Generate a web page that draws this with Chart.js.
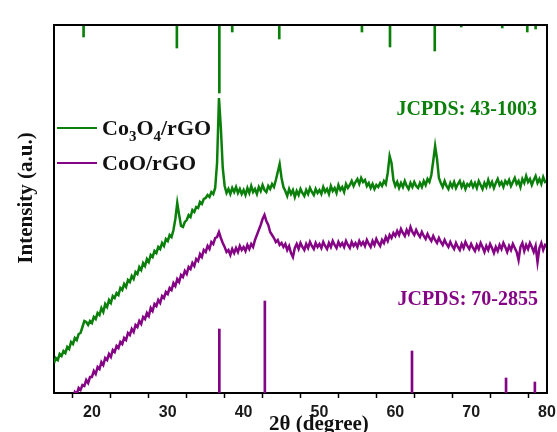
<!DOCTYPE html>
<html>
<head>
<meta charset="utf-8">
<script src="https://cdn.jsdelivr.net/npm/chart.js@4/dist/chart.umd.min.js"></script>
<style>
  html, body { margin: 0; padding: 0; background: #fff; }
  canvas { display: block; }
</style>
</head>
<body>
<canvas id="xrd" width="557" height="432"></canvas>
<script>
// 2-theta sampling of both scans: 15° to 80° every 0.25°
const START_ANGLE = 15;
const ANGLE_STEP = 0.25;

// Co3O4/rGO scan (a.u.), one row per 5°
const co3o4Counts = [
  30, 35, 33, 39, 37, 42, 40, 46, 44, 51, 49, 55, 53, 59, 60, 66, 72, 71, 68, 72,
  70, 76, 74, 80, 78, 85, 81, 89, 86, 93, 90, 97, 95, 100, 98, 105, 103, 109, 106, 113,
  111, 117, 114, 121, 119, 126, 123, 130, 127, 134, 131, 138, 136, 142, 140, 146, 144, 150, 147, 154,
  152, 158, 156, 163, 174, 190, 178, 167, 166, 171, 173, 178, 176, 183, 181, 186, 185, 191, 189, 194,
  195, 198, 196, 201, 199, 205, 230, 295, 265, 225, 207, 200, 204, 199, 205, 201, 206, 200, 204, 199,
  203, 198, 205, 200, 207, 201, 204, 199, 206, 202, 208, 203, 201, 207, 204, 209, 206, 213, 221, 229,
  215, 206, 202, 197, 204, 199, 203, 196, 202, 198, 204, 200, 197, 203, 199, 205, 201, 198, 204, 200,
  203, 199, 206, 201, 204, 199, 207, 202, 205, 200, 208, 203, 206, 201, 209, 205, 208, 212, 207, 211,
  214, 209, 215, 211, 213, 207, 210, 205, 209, 204, 208, 206, 210, 207, 212, 209, 220, 237, 230, 213,
  207, 211, 205, 210, 206, 212, 207, 204, 210, 206, 211, 207, 205, 210, 206, 212, 208, 214, 211, 218,
  232, 247, 234, 215, 210, 206, 212, 207, 204, 210, 206, 211, 205, 209, 212, 206, 210, 204, 209, 207,
  211, 206, 210, 205, 212, 208, 204, 210, 206, 213, 207, 211, 205, 210, 214, 208, 211, 206, 212, 209,
  213, 207, 211, 215, 209, 212, 206, 214, 210, 217, 211, 214, 208, 213, 217, 210, 214, 209, 216, 211,
  212
];

// CoO/rGO scan (a.u.)
const cooCounts = [
  -23, -19, -21, -15, -17, -11, -13, -7, -9, -3, -5, 1, -1, 5, 3, 8, 7, 13, 10, 16,
  16, 22, 19, 26, 24, 31, 28, 35, 33, 39, 36, 43, 41, 47, 45, 51, 49, 55, 53, 60,
  58, 64, 61, 68, 66, 72, 69, 76, 74, 80, 77, 85, 82, 89, 87, 93, 90, 97, 95, 101,
  99, 105, 103, 110, 107, 114, 111, 118, 116, 122, 119, 126, 124, 130, 127, 134, 132, 139, 136, 143,
  141, 147, 144, 151, 149, 155, 156, 161, 155, 150, 146, 141, 143, 138, 144, 140, 145, 141, 147, 143,
  146, 142, 148, 144, 149, 146, 153, 158, 163, 168, 174, 178, 172, 168, 161, 158, 155, 151, 153, 148,
  150, 146, 149, 143, 147, 140, 136, 145, 149, 144, 150, 146, 143, 149, 145, 151, 147, 144, 150, 146,
  149, 145, 151, 147, 144, 150, 146, 152, 148, 145, 151, 147, 150, 146, 152, 148, 145, 151, 147, 150,
  146, 152, 148, 151, 147, 153, 149, 146, 152, 148, 154, 150, 147, 153, 150, 156, 152, 158, 155, 160,
  157, 162, 158, 164, 160, 157, 163, 159, 166, 161, 158, 163, 159, 156, 161, 157, 154, 159, 155, 152,
  157, 153, 150, 155, 151, 148, 153, 149, 146, 151, 147, 144, 150, 146, 143, 149, 145, 151, 147, 144,
  149, 145, 142, 148, 144, 150, 146, 141, 147, 143, 149, 145, 140, 146, 142, 148, 144, 150, 146, 141,
  147, 143, 149, 145, 141, 133, 146, 150, 142, 148, 144, 150, 146, 141, 147, 131, 145, 150, 143, 148,
  146
];

// standard patterns: peak positions and relative stick heights
const co3o4RefAngles  = [18.9, 31.2, 36.8, 38.5, 44.7, 55.6, 59.3, 65.2, 68.7, 74.1, 77.4, 78.5];
const co3o4RefHeights = [12, 23, 68, 7, 14, 7, 22, 26, 2, 3, 7, 4];
const cooRefAngles  = [36.8, 42.8, 62.2, 74.6, 78.4];
const cooRefHeights = [64, 92, 42, 15, 11];

const Y_MAX = 368;
const GREEN = "#0a800a";
const PURPLE = "#850485";
const SERIF = "'Liberation Serif', 'Times New Roman', serif";

const angles = co3o4Counts.map((_, i) => START_ANGLE + i * ANGLE_STEP);
const toPoints = (ys) => ys.map((y, i) => ({ x: angles[i], y }));

// Co3O4 sticks hang from the top frame, CoO sticks stand on the x axis
const hanging = co3o4RefAngles.map((x, i) => ({ x, y: [Y_MAX - co3o4RefHeights[i], Y_MAX] }));
const standing = cooRefAngles.map((x, i) => ({ x, y: [0, cooRefHeights[i]] }));

const annotations = {
  id: "annotations",
  afterDraw(chart) {
    const { ctx, chartArea: a } = chart;
    ctx.save();

    // closing frame on top and right
    ctx.strokeStyle = "#000";
    ctx.lineWidth = 2;
    ctx.beginPath();
    ctx.moveTo(a.left, a.top);
    ctx.lineTo(a.right, a.top);
    ctx.lineTo(a.right, a.bottom);
    ctx.stroke();

    // y axis title
    ctx.fillStyle = "#111";
    ctx.font = `bold 21px ${SERIF}`;
    ctx.textAlign = "center";
    ctx.textBaseline = "middle";
    ctx.translate(27, 198);
    ctx.rotate(-Math.PI / 2);
    ctx.fillText("Intensity (a.u.)", 0, 0);
    ctx.setTransform(1, 0, 0, 1, 0, 0);

    // x axis title
    ctx.textAlign = "left";
    ctx.textBaseline = "alphabetic";
    ctx.font = `bold 21px ${SERIF}`;
    ctx.fillText("2θ (degree)", 269, 430);

    // legend
    const legendRows = [
      { color: GREEN, y: 128, parts: [["Co", 0], ["3", 1], ["O", 0], ["4", 1], ["/rGO", 0]] },
      { color: PURPLE, y: 163, parts: [["CoO/rGO", 0]] },
    ];
    for (const row of legendRows) {
      ctx.strokeStyle = row.color;
      ctx.lineWidth = 2;
      ctx.beginPath();
      ctx.moveTo(57, row.y);
      ctx.lineTo(97, row.y);
      ctx.stroke();
      let x = 102;
      ctx.fillStyle = "#111";
      for (const [txt, sub] of row.parts) {
        ctx.font = sub ? `bold 15px ${SERIF}` : `bold 22px ${SERIF}`;
        ctx.fillText(txt, x, row.y + 7 + (sub ? 6 : 0));
        x += ctx.measureText(txt).width;
      }
    }

    // card labels
    ctx.textAlign = "right";
    ctx.font = `bold 20px ${SERIF}`;
    ctx.fillStyle = GREEN;
    ctx.fillText("JCPDS: 43-1003", 537, 115);
    ctx.fillStyle = PURPLE;
    ctx.fillText("JCPDS: 70-2855", 538, 305);

    ctx.restore();
  },
};

const whiteBackground = {
  id: "whiteBackground",
  beforeDraw(chart) {
    const { ctx, width, height } = chart;
    ctx.save();
    ctx.fillStyle = "#fff";
    ctx.fillRect(0, 0, width, height);
    ctx.restore();
  },
};

new Chart(document.getElementById("xrd"), {
  type: "line",
  data: {
    datasets: [
      {
        label: "Co3O4/rGO",
        data: toPoints(co3o4Counts),
        borderColor: GREEN,
        borderWidth: 2.5,
        pointRadius: 0,
        tension: 0,
      },
      {
        label: "CoO/rGO",
        data: toPoints(cooCounts),
        borderColor: PURPLE,
        borderWidth: 2.5,
        pointRadius: 0,
        tension: 0,
      },
      {
        type: "bar",
        label: "JCPDS 43-1003",
        data: hanging,
        backgroundColor: GREEN,
        barThickness: 2,
        grouped: false,
      },
      {
        type: "bar",
        label: "JCPDS 70-2855",
        data: standing,
        backgroundColor: PURPLE,
        barThickness: 2,
        grouped: false,
      },
    ],
  },
  options: {
    responsive: false,
    devicePixelRatio: 1,
    animation: false,
    layout: { padding: { left: 54, right: 10, top: 25, bottom: 0 } },
    plugins: {
      legend: { display: false },
      tooltip: { enabled: false },
    },
    scales: {
      x: {
        type: "linear",
        min: 15,
        max: 80,
        offset: false,
        afterFit: (s) => {
          s.height = 39;
          s.paddingLeft = 0;
          s.paddingRight = 0;
        },
        border: { display: true, color: "#000", width: 2 },
        grid: {
          display: true,
          drawOnChartArea: false,
          drawTicks: true,
          tickLength: 5,
          tickWidth: 1.5,
          tickColor: "#000",
        },
        ticks: {
          stepSize: 5,
          autoSkip: false,
          maxRotation: 0,
          padding: 5,
          color: "#1a1a1a",
          font: { family: "'Liberation Sans', Arial, sans-serif", size: 16, weight: "bold" },
          callback: (v) => (v % 10 === 0 && v > 15 ? String(v) : ""),
        },
      },
      y: {
        type: "linear",
        min: 0,
        max: Y_MAX,
        afterFit: (s) => { s.width = 0; },
        border: { display: true, color: "#000", width: 2 },
        grid: { display: false },
        ticks: { display: false },
      },
    },
  },
  plugins: [whiteBackground, annotations],
});
</script>
</body>
</html>
